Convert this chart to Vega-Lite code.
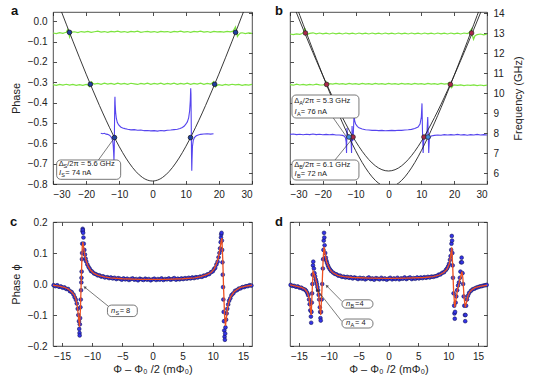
{
"$schema":"https://vega.github.io/schema/vega-lite/v6.json",
"autosize":{"type":"none"},
"padding":{"left":53,"top":12,"right":481,"bottom":369},
"background":"white",
"columns":2,
"spacing":{"row":38,"column":38},
"bounds":"flush",
"config":{"view":{"stroke":"#222","strokeWidth":0.8},"font":"Liberation Sans",
"axis":{"grid":false,"domain":false,"tickSize":-3.5,"tickColor":"#222","tickWidth":0.8,"labelFont":"Liberation Sans","labelFontSize":10,"labelColor":"#222","labelPadding":9.5,"titleFont":"Liberation Sans","titleFontSize":11,"titleFontWeight":"normal","titleColor":"#222"},
"axisX":{"labelPadding":9}},
"datasets":{
"letters_a":[{"x":-42.66,"y":0.0303,"t":"a"}],
"letters_b":[{"x":-34.57,"y":13.9,"t":"b"}],
"letters_c":[{"x":-23.63,"y":0.187,"t":"c"}],
"letters_d":[{"x":-19.01,"y":0.187,"t":"d"}],
"a_green":[
{"s":"g1","x":-30,"y":-0.058},{"s":"g1","x":-29,"y":-0.061},{"s":"g1","x":-28,"y":-0.056},{"s":"g1","x":-27,"y":-0.06},{"s":"g1","x":-26.5,"y":-0.057},{"s":"g1","x":-26,"y":-0.055},{"s":"g1","x":-25.6,"y":-0.042},{"s":"g1","x":-25.3,"y":-0.058},{"s":"g1","x":-25.0,"y":-0.078},{"s":"g1","x":-24.7,"y":-0.062},{"s":"g1","x":-24.3,"y":-0.054},{"s":"g1","x":-23.5,"y":-0.052},{"s":"g1","x":-22.5,"y":-0.056},{"s":"g1","x":-21.5,"y":-0.051},{"s":"g1","x":-20.5,"y":-0.054},{"s":"g1","x":-19.5,"y":-0.05},{"s":"g1","x":-18.5,"y":-0.055},{"s":"g1","x":-17.5,"y":-0.052},{"s":"g1","x":-16.5,"y":-0.049},{"s":"g1","x":-15.5,"y":-0.054},{"s":"g1","x":-14.5,"y":-0.051},{"s":"g1","x":-13.5,"y":-0.055},{"s":"g1","x":-12.5,"y":-0.05},{"s":"g1","x":-11.5,"y":-0.053},{"s":"g1","x":-10.5,"y":-0.049},{"s":"g1","x":-9.5,"y":-0.054},{"s":"g1","x":-8.5,"y":-0.051},{"s":"g1","x":-7.5,"y":-0.055},{"s":"g1","x":-6.5,"y":-0.05},{"s":"g1","x":-5.5,"y":-0.053},{"s":"g1","x":-4.5,"y":-0.049},{"s":"g1","x":-3.5,"y":-0.055},{"s":"g1","x":-2.5,"y":-0.052},{"s":"g1","x":-1.5,"y":-0.05},{"s":"g1","x":-0.5,"y":-0.054},{"s":"g1","x":0.5,"y":-0.051},{"s":"g1","x":1.5,"y":-0.055},{"s":"g1","x":2.5,"y":-0.05},{"s":"g1","x":3.5,"y":-0.053},{"s":"g1","x":4.5,"y":-0.051},{"s":"g1","x":5.5,"y":-0.055},{"s":"g1","x":6.5,"y":-0.05},{"s":"g1","x":7.5,"y":-0.053},{"s":"g1","x":8.5,"y":-0.049},{"s":"g1","x":9.5,"y":-0.054},{"s":"g1","x":10.5,"y":-0.051},{"s":"g1","x":11.5,"y":-0.055},{"s":"g1","x":12.5,"y":-0.05},{"s":"g1","x":13.5,"y":-0.053},{"s":"g1","x":14.5,"y":-0.049},{"s":"g1","x":15.5,"y":-0.054},{"s":"g1","x":16.5,"y":-0.051},{"s":"g1","x":17.5,"y":-0.055},{"s":"g1","x":18.5,"y":-0.05},{"s":"g1","x":19.5,"y":-0.053},{"s":"g1","x":20.5,"y":-0.051},{"s":"g1","x":21.5,"y":-0.054},{"s":"g1","x":22.5,"y":-0.05},{"s":"g1","x":23.5,"y":-0.053},{"s":"g1","x":24.3,"y":-0.049},{"s":"g1","x":24.7,"y":-0.038},{"s":"g1","x":25.0,"y":-0.028},{"s":"g1","x":25.3,"y":-0.045},{"s":"g1","x":25.6,"y":-0.075},{"s":"g1","x":26.0,"y":-0.066},{"s":"g1","x":26.5,"y":-0.059},{"s":"g1","x":27,"y":-0.057},{"s":"g1","x":28,"y":-0.061},{"s":"g1","x":29,"y":-0.058},{"s":"g1","x":30,"y":-0.06},
{"s":"g2","x":-30,"y":-0.312},{"s":"g2","x":-29,"y":-0.315},{"s":"g2","x":-28,"y":-0.311},{"s":"g2","x":-27,"y":-0.314},{"s":"g2","x":-26,"y":-0.31},{"s":"g2","x":-25,"y":-0.314},{"s":"g2","x":-24,"y":-0.311},{"s":"g2","x":-23,"y":-0.315},{"s":"g2","x":-22,"y":-0.312},{"s":"g2","x":-21,"y":-0.315},{"s":"g2","x":-20,"y":-0.311},{"s":"g2","x":-19.4,"y":-0.314},{"s":"g2","x":-19.0,"y":-0.322},{"s":"g2","x":-18.7,"y":-0.31},{"s":"g2","x":-18.4,"y":-0.298},{"s":"g2","x":-18.0,"y":-0.305},{"s":"g2","x":-17.5,"y":-0.309},{"s":"g2","x":-16.5,"y":-0.306},{"s":"g2","x":-15.5,"y":-0.31},{"s":"g2","x":-14.5,"y":-0.305},{"s":"g2","x":-13.5,"y":-0.309},{"s":"g2","x":-12.5,"y":-0.306},{"s":"g2","x":-11.5,"y":-0.31},{"s":"g2","x":-10.5,"y":-0.305},{"s":"g2","x":-9.5,"y":-0.309},{"s":"g2","x":-8.5,"y":-0.306},{"s":"g2","x":-7.5,"y":-0.31},{"s":"g2","x":-6.5,"y":-0.305},{"s":"g2","x":-5.5,"y":-0.308},{"s":"g2","x":-4.5,"y":-0.311},{"s":"g2","x":-3.5,"y":-0.306},{"s":"g2","x":-2.5,"y":-0.309},{"s":"g2","x":-1.5,"y":-0.305},{"s":"g2","x":-0.5,"y":-0.31},{"s":"g2","x":0.5,"y":-0.306},{"s":"g2","x":1.5,"y":-0.309},{"s":"g2","x":2.5,"y":-0.305},{"s":"g2","x":3.5,"y":-0.31},{"s":"g2","x":4.5,"y":-0.306},{"s":"g2","x":5.5,"y":-0.309},{"s":"g2","x":6.5,"y":-0.305},{"s":"g2","x":7.5,"y":-0.31},{"s":"g2","x":8.5,"y":-0.306},{"s":"g2","x":9.5,"y":-0.309},{"s":"g2","x":10.5,"y":-0.305},{"s":"g2","x":11.5,"y":-0.31},{"s":"g2","x":12.5,"y":-0.306},{"s":"g2","x":13.5,"y":-0.309},{"s":"g2","x":14.5,"y":-0.305},{"s":"g2","x":15.5,"y":-0.31},{"s":"g2","x":16.5,"y":-0.306},{"s":"g2","x":17.5,"y":-0.309},{"s":"g2","x":18.0,"y":-0.304},{"s":"g2","x":18.4,"y":-0.297},{"s":"g2","x":18.7,"y":-0.312},{"s":"g2","x":19.0,"y":-0.323},{"s":"g2","x":19.4,"y":-0.316},{"s":"g2","x":20,"y":-0.312},{"s":"g2","x":21,"y":-0.315},{"s":"g2","x":22,"y":-0.311},{"s":"g2","x":23,"y":-0.314},{"s":"g2","x":24,"y":-0.31},{"s":"g2","x":25,"y":-0.313},{"s":"g2","x":26,"y":-0.311},{"s":"g2","x":27,"y":-0.315},{"s":"g2","x":28,"y":-0.312},{"s":"g2","x":29,"y":-0.314},{"s":"g2","x":30,"y":-0.311}],
"a_blue":[
{"x":-15.6,"y":-0.551},{"x":-15,"y":-0.553},{"x":-14.5,"y":-0.551},{"x":-14,"y":-0.555},{"x":-13.5,"y":-0.556},{"x":-13,"y":-0.56},{"x":-12.6,"y":-0.566},{"x":-12.3,"y":-0.574},{"x":-12.0,"y":-0.588},{"x":-11.85,"y":-0.61},{"x":-11.72,"y":-0.645},{"x":-11.62,"y":-0.685},{"x":-11.52,"y":-0.62},{"x":-11.45,"y":-0.5},{"x":-11.38,"y":-0.4},{"x":-11.32,"y":-0.372},{"x":-11.25,"y":-0.41},{"x":-11.1,"y":-0.45},{"x":-10.9,"y":-0.478},{"x":-10.6,"y":-0.498},{"x":-10.2,"y":-0.51},{"x":-9.6,"y":-0.52},{"x":-9,"y":-0.525},{"x":-8.3,"y":-0.528},{"x":-7.5,"y":-0.531},{"x":-6.5,"y":-0.534},{"x":-5.5,"y":-0.533},{"x":-4.5,"y":-0.536},{"x":-3.5,"y":-0.535},{"x":-2.5,"y":-0.538},{"x":-1.5,"y":-0.537},{"x":-0.5,"y":-0.539},{"x":0.5,"y":-0.538},{"x":1.5,"y":-0.54},{"x":2.5,"y":-0.537},{"x":3.5,"y":-0.539},{"x":4.5,"y":-0.536},{"x":5.5,"y":-0.535},{"x":6.5,"y":-0.533},{"x":7.5,"y":-0.531},{"x":8.3,"y":-0.527},{"x":9,"y":-0.522},{"x":9.6,"y":-0.515},{"x":10.1,"y":-0.505},{"x":10.5,"y":-0.495},{"x":10.9,"y":-0.475},{"x":11.2,"y":-0.44},{"x":11.4,"y":-0.39},{"x":11.52,"y":-0.33},{"x":11.6,"y":-0.36},{"x":11.68,"y":-0.5},{"x":11.76,"y":-0.65},{"x":11.84,"y":-0.735},{"x":11.92,"y":-0.68},{"x":12.05,"y":-0.615},{"x":12.3,"y":-0.585},{"x":12.7,"y":-0.571},{"x":13.2,"y":-0.563},{"x":13.8,"y":-0.559},{"x":14.5,"y":-0.556},{"x":15.5,"y":-0.554},{"x":16.5,"y":-0.553},{"x":17.5,"y":-0.555},{"x":18.4,"y":-0.553}],
"a_curve":[
{"x":-28,"y":0.0698},{"x":-26,"y":-0.0147},{"x":-24,"y":-0.0981},{"x":-22,"y":-0.1801},{"x":-20,"y":-0.2604},{"x":-18,"y":-0.3386},{"x":-16,"y":-0.4142},{"x":-14,"y":-0.4865},{"x":-12,"y":-0.5546},{"x":-10,"y":-0.6172},{"x":-8,"y":-0.6727},{"x":-6,"y":-0.7194},{"x":-5,"y":-0.7388},{"x":-4,"y":-0.7551},{"x":-3,"y":-0.7681},{"x":-2,"y":-0.7776},{"x":-1,"y":-0.7833},{"x":0,"y":-0.7853},{"x":1,"y":-0.7833},{"x":2,"y":-0.7776},{"x":3,"y":-0.7681},{"x":4,"y":-0.7551},{"x":5,"y":-0.7388},{"x":6,"y":-0.7194},{"x":8,"y":-0.6727},{"x":10,"y":-0.6172},{"x":12,"y":-0.5546},{"x":14,"y":-0.4865},{"x":16,"y":-0.4142},{"x":18,"y":-0.3386},{"x":20,"y":-0.2604},{"x":22,"y":-0.1801},{"x":24,"y":-0.0981},{"x":26,"y":-0.0147},{"x":28,"y":0.0698}],
"a_dots":[{"x":-25.04,"y":-0.055},{"x":-18.74,"y":-0.31},{"x":-11.46,"y":-0.572},{"x":11.46,"y":-0.572},{"x":18.74,"y":-0.31},{"x":25.04,"y":-0.055}],
"a_call":[{"x":-16.3,"y":-0.682},{"x":-12.0,"y":-0.585}],
"a_box":[{"x":-28.9,"x2":-9.6,"y":-0.682,"y2":-0.777}],
"a_txt":[
{"k":"n","x":-28.3,"y":-0.702,"t":"Δ"},{"k":"s","x":-26.8,"y":-0.702,"t":"S"},{"k":"n","x":-25.7,"y":-0.702,"t":"/2π = 5.6 GHz"},
{"k":"i","x":-28.2,"y":-0.744,"t":"I"},{"k":"s","x":-27.5,"y":-0.744,"t":"S"},{"k":"n","x":-26.3,"y":-0.744,"t":"= 74 nA"}],
"b_green":[
{"s":"g1","x":-30,"y":12.95},{"s":"g1","x":-29,"y":12.92},{"s":"g1","x":-28,"y":12.96},{"s":"g1","x":-27,"y":12.93},{"s":"g1","x":-26.3,"y":12.97},{"s":"g1","x":-25.8,"y":13.06},{"s":"g1","x":-25.5,"y":13.25},{"s":"g1","x":-25.2,"y":13.0},{"s":"g1","x":-24.8,"y":12.92},{"s":"g1","x":-24,"y":12.98},{"s":"g1","x":-23,"y":13.01},{"s":"g1","x":-22,"y":12.96},{"s":"g1","x":-21,"y":13.0},{"s":"g1","x":-20,"y":12.96},{"s":"g1","x":-19,"y":12.99},{"s":"g1","x":-18,"y":12.95},{"s":"g1","x":-17,"y":13.0},{"s":"g1","x":-16,"y":12.96},{"s":"g1","x":-15,"y":12.99},{"s":"g1","x":-14,"y":12.95},{"s":"g1","x":-13,"y":13.0},{"s":"g1","x":-12,"y":12.96},{"s":"g1","x":-11,"y":12.99},{"s":"g1","x":-10,"y":12.95},{"s":"g1","x":-9,"y":13.0},{"s":"g1","x":-8,"y":12.96},{"s":"g1","x":-7,"y":12.99},{"s":"g1","x":-6,"y":12.95},{"s":"g1","x":-5,"y":13.0},{"s":"g1","x":-4,"y":12.96},{"s":"g1","x":-3,"y":12.99},{"s":"g1","x":-2,"y":12.95},{"s":"g1","x":-1,"y":13.0},{"s":"g1","x":0,"y":12.96},{"s":"g1","x":1,"y":12.99},{"s":"g1","x":2,"y":12.95},{"s":"g1","x":3,"y":13.0},{"s":"g1","x":4,"y":12.96},{"s":"g1","x":5,"y":12.99},{"s":"g1","x":6,"y":12.95},{"s":"g1","x":7,"y":13.0},{"s":"g1","x":8,"y":12.96},{"s":"g1","x":9,"y":12.99},{"s":"g1","x":10,"y":12.95},{"s":"g1","x":11,"y":13.0},{"s":"g1","x":12,"y":12.96},{"s":"g1","x":13,"y":12.99},{"s":"g1","x":14,"y":12.95},{"s":"g1","x":15,"y":13.0},{"s":"g1","x":16,"y":12.96},{"s":"g1","x":17,"y":12.99},{"s":"g1","x":18,"y":12.95},{"s":"g1","x":19,"y":13.0},{"s":"g1","x":20,"y":12.96},{"s":"g1","x":21,"y":12.99},{"s":"g1","x":22,"y":12.95},{"s":"g1","x":23,"y":13.0},{"s":"g1","x":24,"y":12.97},{"s":"g1","x":24.6,"y":13.02},{"s":"g1","x":25.0,"y":13.12},{"s":"g1","x":25.3,"y":13.2},{"s":"g1","x":25.6,"y":12.85},{"s":"g1","x":25.9,"y":12.68},{"s":"g1","x":26.3,"y":12.85},{"s":"g1","x":27,"y":12.92},{"s":"g1","x":28,"y":12.95},{"s":"g1","x":29,"y":12.91},{"s":"g1","x":30,"y":12.94},
{"s":"g2","x":-30,"y":10.42},{"s":"g2","x":-29,"y":10.39},{"s":"g2","x":-28,"y":10.44},{"s":"g2","x":-27,"y":10.4},{"s":"g2","x":-26,"y":10.43},{"s":"g2","x":-25,"y":10.39},{"s":"g2","x":-24,"y":10.43},{"s":"g2","x":-23,"y":10.4},{"s":"g2","x":-22,"y":10.44},{"s":"g2","x":-21,"y":10.41},{"s":"g2","x":-20,"y":10.4},{"s":"g2","x":-19.3,"y":10.43},{"s":"g2","x":-19.0,"y":10.54},{"s":"g2","x":-18.7,"y":10.37},{"s":"g2","x":-18.4,"y":10.44},{"s":"g2","x":-18,"y":10.47},{"s":"g2","x":-17,"y":10.44},{"s":"g2","x":-16,"y":10.48},{"s":"g2","x":-15,"y":10.44},{"s":"g2","x":-14,"y":10.47},{"s":"g2","x":-13,"y":10.43},{"s":"g2","x":-12,"y":10.48},{"s":"g2","x":-11,"y":10.44},{"s":"g2","x":-10,"y":10.47},{"s":"g2","x":-9,"y":10.43},{"s":"g2","x":-8,"y":10.48},{"s":"g2","x":-7,"y":10.44},{"s":"g2","x":-6,"y":10.47},{"s":"g2","x":-5,"y":10.43},{"s":"g2","x":-4,"y":10.48},{"s":"g2","x":-3,"y":10.44},{"s":"g2","x":-2,"y":10.47},{"s":"g2","x":-1,"y":10.43},{"s":"g2","x":0,"y":10.48},{"s":"g2","x":1,"y":10.44},{"s":"g2","x":2,"y":10.47},{"s":"g2","x":3,"y":10.43},{"s":"g2","x":4,"y":10.48},{"s":"g2","x":5,"y":10.44},{"s":"g2","x":6,"y":10.47},{"s":"g2","x":7,"y":10.43},{"s":"g2","x":8,"y":10.48},{"s":"g2","x":9,"y":10.44},{"s":"g2","x":10,"y":10.47},{"s":"g2","x":11,"y":10.43},{"s":"g2","x":12,"y":10.48},{"s":"g2","x":13,"y":10.44},{"s":"g2","x":14,"y":10.47},{"s":"g2","x":15,"y":10.43},{"s":"g2","x":16,"y":10.48},{"s":"g2","x":17,"y":10.44},{"s":"g2","x":18,"y":10.47},{"s":"g2","x":18.3,"y":10.5},{"s":"g2","x":18.6,"y":10.53},{"s":"g2","x":18.9,"y":10.32},{"s":"g2","x":19.2,"y":10.26},{"s":"g2","x":19.6,"y":10.36},{"s":"g2","x":20,"y":10.41},{"s":"g2","x":21,"y":10.38},{"s":"g2","x":22,"y":10.41},{"s":"g2","x":23,"y":10.37},{"s":"g2","x":24,"y":10.4},{"s":"g2","x":25,"y":10.38},{"s":"g2","x":26,"y":10.41},{"s":"g2","x":27,"y":10.37},{"s":"g2","x":28,"y":10.4},{"s":"g2","x":29,"y":10.37},{"s":"g2","x":30,"y":10.39}],
"b_blue":[
{"x":-30,"y":7.93},{"x":-29,"y":7.95},{"x":-28,"y":7.92},{"x":-27,"y":7.94},{"x":-26,"y":7.91},{"x":-25,"y":7.94},{"x":-24,"y":7.92},{"x":-23,"y":7.95},{"x":-22,"y":7.92},{"x":-21,"y":7.94},{"x":-20,"y":7.91},{"x":-19,"y":7.93},{"x":-18,"y":7.91},{"x":-17,"y":7.93},{"x":-16,"y":7.9},{"x":-15,"y":7.9},{"x":-14,"y":7.88},{"x":-13.4,"y":7.84},{"x":-13.1,"y":7.75},{"x":-12.9,"y":7.55},{"x":-12.78,"y":7.0},{"x":-12.65,"y":8.25},{"x":-12.5,"y":7.95},{"x":-12.1,"y":7.86},{"x":-11.7,"y":7.8},{"x":-11.4,"y":7.62},{"x":-11.25,"y":7.0},{"x":-11.1,"y":8.35},{"x":-10.9,"y":7.6},{"x":-10.7,"y":8.0},{"x":-10.5,"y":8.9},{"x":-10.3,"y":8.6},{"x":-10.0,"y":8.45},{"x":-9.5,"y":8.33},{"x":-9,"y":8.26},{"x":-8,"y":8.2},{"x":-7,"y":8.16},{"x":-6,"y":8.15},{"x":-5,"y":8.13},{"x":-4,"y":8.14},{"x":-3,"y":8.12},{"x":-2,"y":8.13},{"x":-1,"y":8.11},{"x":0,"y":8.12},{"x":1,"y":8.13},{"x":2,"y":8.12},{"x":3,"y":8.14},{"x":4,"y":8.13},{"x":5,"y":8.15},{"x":6,"y":8.16},{"x":7,"y":8.18},{"x":8,"y":8.22},{"x":9,"y":8.3},{"x":9.6,"y":8.45},{"x":10.0,"y":8.8},{"x":10.2,"y":9.48},{"x":10.35,"y":8.1},{"x":10.55,"y":7.0},{"x":10.75,"y":7.65},{"x":11.2,"y":7.85},{"x":11.7,"y":8.0},{"x":11.95,"y":8.8},{"x":12.1,"y":7.95},{"x":12.25,"y":7.0},{"x":12.45,"y":7.7},{"x":13,"y":7.85},{"x":14,"y":7.88},{"x":15,"y":7.9},{"x":16,"y":7.89},{"x":17,"y":7.92},{"x":18,"y":7.9},{"x":19,"y":7.92},{"x":20,"y":7.9},{"x":21,"y":7.93},{"x":22,"y":7.9},{"x":23,"y":7.92},{"x":24,"y":7.89},{"x":25,"y":7.92},{"x":26,"y":7.9},{"x":27,"y":7.93},{"x":28,"y":7.9},{"x":29,"y":7.92},{"x":30,"y":7.9}],
"b_curves":[
{"s":"A","x":-28,"y":14.3171},{"s":"A","x":-27,"y":13.877},{"s":"A","x":-26,"y":13.4392},{"s":"A","x":-25,"y":13.0041},{"s":"A","x":-24,"y":12.5718},{"s":"A","x":-23,"y":12.1427},{"s":"A","x":-22,"y":11.7172},{"s":"A","x":-21,"y":11.2956},{"s":"A","x":-20,"y":10.8784},{"s":"A","x":-19,"y":10.4662},{"s":"A","x":-18,"y":10.0594},{"s":"A","x":-17,"y":9.659},{"s":"A","x":-16,"y":9.2655},{"s":"A","x":-15,"y":8.8801},{"s":"A","x":-14,"y":8.5037},{"s":"A","x":-13,"y":8.1376},{"s":"A","x":-12,"y":7.7833},{"s":"A","x":-11,"y":7.4425},{"s":"A","x":-10,"y":7.117},{"s":"A","x":-9,"y":6.8092},{"s":"A","x":-8,"y":6.5215},{"s":"A","x":-7,"y":6.2566},{"s":"A","x":-6,"y":6.0177},{"s":"A","x":-5,"y":5.8078},{"s":"A","x":-4,"y":5.6303},{"s":"A","x":-3,"y":5.4882},{"s":"A","x":-2,"y":5.3845},{"s":"A","x":0,"y":5.3},{"s":"A","x":2,"y":5.3845},{"s":"A","x":3,"y":5.4882},{"s":"A","x":4,"y":5.6303},{"s":"A","x":5,"y":5.8078},{"s":"A","x":6,"y":6.0177},{"s":"A","x":7,"y":6.2566},{"s":"A","x":8,"y":6.5215},{"s":"A","x":9,"y":6.8092},{"s":"A","x":10,"y":7.117},{"s":"A","x":11,"y":7.4425},{"s":"A","x":12,"y":7.7833},{"s":"A","x":13,"y":8.1376},{"s":"A","x":14,"y":8.5037},{"s":"A","x":15,"y":8.8801},{"s":"A","x":16,"y":9.2655},{"s":"A","x":17,"y":9.659},{"s":"A","x":18,"y":10.0594},{"s":"A","x":19,"y":10.4662},{"s":"A","x":20,"y":10.8784},{"s":"A","x":21,"y":11.2956},{"s":"A","x":22,"y":11.7172},{"s":"A","x":23,"y":12.1427},{"s":"A","x":24,"y":12.5718},{"s":"A","x":25,"y":13.0041},{"s":"A","x":26,"y":13.4392},{"s":"A","x":27,"y":13.877},{"s":"A","x":28,"y":14.3171},
{"s":"B","x":-29,"y":14.4053},{"s":"B","x":-28,"y":13.9989},{"s":"B","x":-27,"y":13.5953},{"s":"B","x":-26,"y":13.1947},{"s":"B","x":-25,"y":12.7974},{"s":"B","x":-24,"y":12.4036},{"s":"B","x":-23,"y":12.0139},{"s":"B","x":-22,"y":11.6284},{"s":"B","x":-21,"y":11.2478},{"s":"B","x":-20,"y":10.8724},{"s":"B","x":-19,"y":10.503},{"s":"B","x":-18,"y":10.14},{"s":"B","x":-17,"y":9.7843},{"s":"B","x":-16,"y":9.4366},{"s":"B","x":-15,"y":9.098},{"s":"B","x":-14,"y":8.7693},{"s":"B","x":-13,"y":8.4518},{"s":"B","x":-12,"y":8.1468},{"s":"B","x":-11,"y":7.8557},{"s":"B","x":-10,"y":7.5802},{"s":"B","x":-9,"y":7.3221},{"s":"B","x":-8,"y":7.0831},{"s":"B","x":-7,"y":6.8653},{"s":"B","x":-6,"y":6.6708},{"s":"B","x":-5,"y":6.5017},{"s":"B","x":-4,"y":6.36},{"s":"B","x":-3,"y":6.2476},{"s":"B","x":-2,"y":6.166},{"s":"B","x":-1,"y":6.1166},{"s":"B","x":0,"y":6.1},{"s":"B","x":1,"y":6.1166},{"s":"B","x":2,"y":6.166},{"s":"B","x":3,"y":6.2476},{"s":"B","x":4,"y":6.36},{"s":"B","x":5,"y":6.5017},{"s":"B","x":6,"y":6.6708},{"s":"B","x":7,"y":6.8653},{"s":"B","x":8,"y":7.0831},{"s":"B","x":9,"y":7.3221},{"s":"B","x":10,"y":7.5802},{"s":"B","x":11,"y":7.8557},{"s":"B","x":12,"y":8.1468},{"s":"B","x":13,"y":8.4518},{"s":"B","x":14,"y":8.7693},{"s":"B","x":15,"y":9.098},{"s":"B","x":16,"y":9.4366},{"s":"B","x":17,"y":9.7843},{"s":"B","x":18,"y":10.14},{"s":"B","x":19,"y":10.503},{"s":"B","x":20,"y":10.8724},{"s":"B","x":21,"y":11.2478},{"s":"B","x":22,"y":11.6284},{"s":"B","x":23,"y":12.0139},{"s":"B","x":24,"y":12.4036},{"s":"B","x":25,"y":12.7974},{"s":"B","x":26,"y":13.1947},{"s":"B","x":27,"y":13.5953},{"s":"B","x":28,"y":13.9989},{"s":"B","x":29,"y":14.4053}],
"b_red":[{"x":-25.3,"y":13.0},{"x":-18.85,"y":10.43},{"x":-10.8,"y":7.8},{"x":10.8,"y":7.8},{"x":18.85,"y":10.43},{"x":25.3,"y":13.0}],
"b_bluedots":[{"x":-12.05,"y":7.8},{"x":12.05,"y":7.8}],
"b_call":[{"s":"A","x":-16.8,"y":8.75},{"s":"A","x":-12.4,"y":7.72},{"s":"B","x":-16.3,"y":6.65},{"s":"B","x":-11.1,"y":7.7}],
"b_box":[{"x":-29.4,"x2":-9.0,"y":9.9,"y2":8.75},{"x":-29.4,"x2":-9.0,"y":6.65,"y2":5.65}],
"b_txt":[
{"k":"n","x":-28.7,"y":9.6,"t":"Δ"},{"k":"s","x":-27.2,"y":9.6,"t":"A"},{"k":"n","x":-26.1,"y":9.6,"t":"/2π = 5.3 GHz"},
{"k":"i","x":-28.6,"y":9.07,"t":"I"},{"k":"s","x":-27.9,"y":9.07,"t":"A"},{"k":"n","x":-26.7,"y":9.07,"t":"= 76 nA"},
{"k":"n","x":-28.7,"y":6.4,"t":"Δ"},{"k":"s","x":-27.2,"y":6.4,"t":"B"},{"k":"n","x":-26.1,"y":6.4,"t":"/2π = 6.1 GHz"},
{"k":"i","x":-28.6,"y":5.93,"t":"I"},{"k":"s","x":-27.9,"y":5.93,"t":"B"},{"k":"n","x":-26.7,"y":5.93,"t":"= 72 nA"}],
"c_line":[
{"x":-16.5,"y":-0.004},{"x":-15.5,"y":-0.007},{"x":-14.5,"y":-0.012},{"x":-14,"y":-0.016},{"x":-13.5,"y":-0.024},{"x":-13,"y":-0.035},{"x":-12.7,"y":-0.05},{"x":-12.45,"y":-0.075},{"x":-12.25,"y":-0.11},{"x":-12.1,"y":-0.138},{"x":-11.95,"y":-0.08},{"x":-11.8,"y":0.02},{"x":-11.65,"y":0.12},{"x":-11.55,"y":0.135},{"x":-11.4,"y":0.115},{"x":-11.2,"y":0.09},{"x":-11,"y":0.075},{"x":-10.7,"y":0.058},{"x":-10.3,"y":0.045},{"x":-9.7,"y":0.034},{"x":-9,"y":0.028},{"x":-8,"y":0.023},{"x":-7,"y":0.02},{"x":-5,"y":0.017},{"x":-2,"y":0.015},{"x":0,"y":0.015},{"x":2,"y":0.015},{"x":5,"y":0.017},{"x":7,"y":0.02},{"x":8,"y":0.024},{"x":9,"y":0.03},{"x":9.7,"y":0.037},{"x":10.2,"y":0.048},{"x":10.6,"y":0.065},{"x":10.9,"y":0.083},{"x":11.15,"y":0.11},{"x":11.4,"y":0.14},{"x":11.5,"y":0.148},{"x":11.65,"y":0.08},{"x":11.8,"y":-0.02},{"x":11.95,"y":-0.1},{"x":12.1,"y":-0.135},{"x":12.25,"y":-0.11},{"x":12.45,"y":-0.075},{"x":12.7,"y":-0.055},{"x":13,"y":-0.04},{"x":13.5,"y":-0.026},{"x":14,"y":-0.018},{"x":14.5,"y":-0.012},{"x":15.5,"y":-0.007},{"x":16.5,"y":-0.004}],
"c_dots":[
{"x":-16.4,"y":-0.004},{"x":-16.1,"y":-0.007},{"x":-15.8,"y":-0.004},{"x":-15.5,"y":-0.009},{"x":-15.2,"y":-0.008},{"x":-14.9,"y":-0.012},{"x":-14.6,"y":-0.011},{"x":-14.3,"y":-0.016},{"x":-14.0,"y":-0.016},{"x":-13.7,"y":-0.023},{"x":-13.4,"y":-0.026},{"x":-13.1,"y":-0.034},{"x":-12.9,"y":-0.043},{"x":-12.7,"y":-0.051},{"x":-12.55,"y":-0.063},{"x":-12.4,"y":-0.08},{"x":-12.3,"y":-0.1},{"x":-12.2,"y":-0.12},{"x":-12.15,"y":-0.145},{"x":-12.1,"y":-0.158},{"x":-12.08,"y":-0.166},{"x":-12.05,"y":-0.13},{"x":-12.0,"y":-0.11},{"x":-11.95,"y":-0.075},{"x":-11.9,"y":-0.05},{"x":-11.85,"y":-0.02},{"x":-11.8,"y":0.005},{"x":-11.78,"y":0.02},{"x":-11.75,"y":0.04},{"x":-11.7,"y":0.08},{"x":-11.68,"y":0.1},{"x":-11.65,"y":0.13},{"x":-11.6,"y":0.17},{"x":-11.58,"y":0.178},{"x":-11.55,"y":0.174},{"x":-11.5,"y":0.165},{"x":-11.45,"y":0.15},{"x":-11.4,"y":0.13},{"x":-11.3,"y":0.11},{"x":-11.2,"y":0.095},{"x":-11.1,"y":0.082},{"x":-11.0,"y":0.073},{"x":-10.8,"y":0.063},{"x":-10.6,"y":0.055},{"x":-10.4,"y":0.049},{"x":-10.2,"y":0.042},{"x":-10.0,"y":0.04},{"x":-9.7,"y":0.034},{"x":-9.4,"y":0.032},{"x":-9.1,"y":0.028},{"x":-8.8,"y":0.028},{"x":-8.5,"y":0.024},{"x":-8.2,"y":0.025},{"x":-7.9,"y":0.021},
{"x":-7.5,"y":0.022},{"x":-7.2,"y":0.019},{"x":-6.9,"y":0.021},{"x":-6.6,"y":0.018},{"x":-6.3,"y":0.02},{"x":-6.0,"y":0.016},{"x":-5.7,"y":0.019},{"x":-5.4,"y":0.017},{"x":-5.1,"y":0.014},{"x":-4.8,"y":0.018},{"x":-4.5,"y":0.015},{"x":-4.2,"y":0.017},{"x":-3.9,"y":0.013},{"x":-3.6,"y":0.016},{"x":-3.3,"y":0.018},{"x":-3.0,"y":0.014},{"x":-2.7,"y":0.016},{"x":-2.4,"y":0.012},{"x":-2.1,"y":0.017},{"x":-1.8,"y":0.015},{"x":-1.5,"y":0.013},{"x":-1.2,"y":0.017},{"x":-0.9,"y":0.014},{"x":-0.6,"y":0.016},{"x":-0.3,"y":0.012},{"x":0,"y":0.015},{"x":0.3,"y":0.017},{"x":0.6,"y":0.013},{"x":0.9,"y":0.016},{"x":1.2,"y":0.014},{"x":1.5,"y":0.018},{"x":1.8,"y":0.013},{"x":2.1,"y":0.016},{"x":2.4,"y":0.015},{"x":2.7,"y":0.018},{"x":3.0,"y":0.014},{"x":3.3,"y":0.016},{"x":3.6,"y":0.019},{"x":3.9,"y":0.014},{"x":4.2,"y":0.017},{"x":4.5,"y":0.015},{"x":4.8,"y":0.018},{"x":5.1,"y":0.016},{"x":5.4,"y":0.019},{"x":5.7,"y":0.017},{"x":6.0,"y":0.02},{"x":6.3,"y":0.018},{"x":6.6,"y":0.021},{"x":6.9,"y":0.019},{"x":7.2,"y":0.022},{"x":7.5,"y":0.021},
{"x":7.9,"y":0.024},{"x":8.2,"y":0.023},{"x":8.5,"y":0.027},{"x":8.8,"y":0.027},{"x":9.1,"y":0.031},{"x":9.4,"y":0.032},{"x":9.7,"y":0.038},{"x":10.0,"y":0.041},{"x":10.2,"y":0.048},{"x":10.4,"y":0.052},{"x":10.6,"y":0.063},{"x":10.8,"y":0.072},{"x":10.95,"y":0.086},{"x":11.1,"y":0.1},{"x":11.2,"y":0.115},{"x":11.3,"y":0.135},{"x":11.35,"y":0.15},{"x":11.4,"y":0.16},{"x":11.45,"y":0.165},{"x":11.5,"y":0.14},{"x":11.55,"y":0.11},{"x":11.6,"y":0.07},{"x":11.65,"y":0.03},{"x":11.7,"y":-0.01},{"x":11.75,"y":-0.05},{"x":11.8,"y":-0.09},{"x":11.85,"y":-0.12},{"x":11.9,"y":-0.15},{"x":11.95,"y":-0.17},{"x":12.0,"y":-0.18},{"x":12.05,"y":-0.16},{"x":12.1,"y":-0.14},{"x":12.2,"y":-0.115},{"x":12.3,"y":-0.095},{"x":12.4,"y":-0.08},{"x":12.55,"y":-0.066},{"x":12.7,"y":-0.054},{"x":12.9,"y":-0.046},{"x":13.1,"y":-0.036},{"x":13.4,"y":-0.03},{"x":13.7,"y":-0.022},{"x":14.0,"y":-0.02},{"x":14.3,"y":-0.015},{"x":14.6,"y":-0.014},{"x":14.9,"y":-0.01},{"x":15.2,"y":-0.01},{"x":15.5,"y":-0.007},{"x":15.8,"y":-0.007},{"x":16.1,"y":-0.004},{"x":16.4,"y":-0.005}],
"c_arrow":[{"x":-6.93,"y":-0.078},{"x":-11.2,"y":-0.011}],
"c_head":[{"x":-11.25,"y":-0.01}],
"c_box":[{"x":-7.47,"x2":-2.52,"y":-0.068,"y2":-0.105}],
"c_txt":[{"k":"i","x":-6.9,"y":-0.086,"t":"n"},{"k":"s","x":-6.15,"y":-0.086,"t":"S"},{"k":"n","x":-5.45,"y":-0.086,"t":"= 8"}],
"d_line":[
{"x":-16.5,"y":-0.003},{"x":-15.5,"y":-0.007},{"x":-14.5,"y":-0.012},{"x":-14,"y":-0.017},{"x":-13.6,"y":-0.027},{"x":-13.3,"y":-0.045},{"x":-13.1,"y":-0.08},{"x":-12.95,"y":-0.1},{"x":-12.8,"y":-0.03},{"x":-12.65,"y":0.04},{"x":-12.5,"y":0.035},{"x":-12.2,"y":0.015},{"x":-11.95,"y":-0.005},{"x":-11.7,"y":-0.035},{"x":-11.5,"y":-0.08},{"x":-11.35,"y":-0.1},{"x":-11.15,"y":-0.02},{"x":-10.95,"y":0.08},{"x":-10.8,"y":0.12},{"x":-10.6,"y":0.095},{"x":-10.4,"y":0.073},{"x":-10.1,"y":0.058},{"x":-9.8,"y":0.046},{"x":-9.3,"y":0.036},{"x":-8.5,"y":0.028},{"x":-7.5,"y":0.024},{"x":-6,"y":0.021},{"x":-3,"y":0.019},{"x":0,"y":0.018},{"x":3,"y":0.019},{"x":6,"y":0.021},{"x":7.5,"y":0.024},{"x":8.5,"y":0.029},{"x":9.3,"y":0.038},{"x":9.8,"y":0.048},{"x":10.2,"y":0.065},{"x":10.45,"y":0.095},{"x":10.6,"y":0.118},{"x":10.75,"y":0.06},{"x":10.9,"y":-0.02},{"x":11.1,"y":-0.075},{"x":11.3,"y":-0.05},{"x":11.55,"y":-0.02},{"x":11.85,"y":0.005},{"x":12.1,"y":0.025},{"x":12.3,"y":0.04},{"x":12.45,"y":0.02},{"x":12.65,"y":-0.04},{"x":12.85,"y":-0.075},{"x":13.05,"y":-0.06},{"x":13.3,"y":-0.038},{"x":13.6,"y":-0.026},{"x":14,"y":-0.018},{"x":14.5,"y":-0.012},{"x":15.3,"y":-0.008},{"x":16.5,"y":-0.004}],
"d_dots":[
{"x":-16.4,"y":-0.003},{"x":-16.1,"y":-0.006},{"x":-15.8,"y":-0.006},{"x":-15.5,"y":-0.009},{"x":-15.2,"y":-0.008},{"x":-14.9,"y":-0.012},{"x":-14.6,"y":-0.012},{"x":-14.3,"y":-0.016},{"x":-14.0,"y":-0.018},{"x":-13.8,"y":-0.022},{"x":-13.6,"y":-0.029},{"x":-13.45,"y":-0.036},{"x":-13.3,"y":-0.05},{"x":-13.2,"y":-0.065},{"x":-13.1,"y":-0.085},{"x":-13.0,"y":-0.105},{"x":-12.95,"y":-0.125},{"x":-12.9,"y":-0.09},{"x":-12.85,"y":-0.06},{"x":-12.8,"y":-0.03},{"x":-12.75,"y":0.0},{"x":-12.7,"y":0.03},{"x":-12.65,"y":0.06},{"x":-12.6,"y":0.072},{"x":-12.5,"y":0.05},{"x":-12.4,"y":0.035},{"x":-12.3,"y":0.025},{"x":-12.2,"y":0.015},{"x":-12.1,"y":0.008},{"x":-12.0,"y":0.0},{"x":-11.9,"y":-0.01},{"x":-11.8,"y":-0.02},{"x":-11.7,"y":-0.035},{"x":-11.6,"y":-0.05},{"x":-11.5,"y":-0.075},{"x":-11.45,"y":-0.09},{"x":-11.4,"y":-0.11},{"x":-11.35,"y":-0.118},{"x":-11.3,"y":-0.09},{"x":-11.2,"y":-0.05},{"x":-11.1,"y":0.0},{"x":-11.0,"y":0.05},{"x":-10.95,"y":0.08},{"x":-10.9,"y":0.11},{"x":-10.85,"y":0.14},{"x":-10.8,"y":0.165},{"x":-10.75,"y":0.15},{"x":-10.7,"y":0.125},{"x":-10.6,"y":0.1},{"x":-10.5,"y":0.085},{"x":-10.4,"y":0.075},{"x":-10.3,"y":0.068},{"x":-10.15,"y":0.06},{"x":-10.0,"y":0.053},{"x":-9.8,"y":0.047},{"x":-9.6,"y":0.042},{"x":-9.3,"y":0.037},{"x":-9.0,"y":0.033},{"x":-8.7,"y":0.031},{"x":-8.4,"y":0.027},{"x":-8.1,"y":0.027},{"x":-7.8,"y":0.023},
{"x":-7.5,"y":0.024},{"x":-7.2,"y":0.021},{"x":-6.9,"y":0.023},{"x":-6.6,"y":0.02},{"x":-6.3,"y":0.022},{"x":-6.0,"y":0.018},{"x":-5.7,"y":0.021},{"x":-5.4,"y":0.019},{"x":-5.1,"y":0.016},{"x":-4.8,"y":0.02},{"x":-4.5,"y":0.017},{"x":-4.2,"y":0.019},{"x":-3.9,"y":0.015},{"x":-3.6,"y":0.018},{"x":-3.3,"y":0.021},{"x":-3.0,"y":0.016},{"x":-2.7,"y":0.018},{"x":-2.4,"y":0.014},{"x":-2.1,"y":0.019},{"x":-1.8,"y":0.017},{"x":-1.5,"y":0.015},{"x":-1.2,"y":0.02},{"x":-0.9,"y":0.016},{"x":-0.6,"y":0.018},{"x":-0.3,"y":0.014},{"x":0,"y":0.017},{"x":0.3,"y":0.02},{"x":0.6,"y":0.015},{"x":0.9,"y":0.018},{"x":1.2,"y":0.016},{"x":1.5,"y":0.02},{"x":1.8,"y":0.015},{"x":2.1,"y":0.018},{"x":2.4,"y":0.017},{"x":2.7,"y":0.021},{"x":3.0,"y":0.016},{"x":3.3,"y":0.019},{"x":3.6,"y":0.021},{"x":3.9,"y":0.016},{"x":4.2,"y":0.019},{"x":4.5,"y":0.017},{"x":4.8,"y":0.021},{"x":5.1,"y":0.018},{"x":5.4,"y":0.021},{"x":5.7,"y":0.019},{"x":6.0,"y":0.022},{"x":6.3,"y":0.02},{"x":6.6,"y":0.023},{"x":6.9,"y":0.021},{"x":7.2,"y":0.024},{"x":7.5,"y":0.023},
{"x":7.8,"y":0.025},{"x":8.1,"y":0.026},{"x":8.4,"y":0.03},{"x":8.7,"y":0.031},{"x":9.0,"y":0.036},{"x":9.3,"y":0.038},{"x":9.6,"y":0.045},{"x":9.8,"y":0.05},{"x":10.0,"y":0.057},{"x":10.15,"y":0.065},{"x":10.3,"y":0.078},{"x":10.4,"y":0.09},{"x":10.5,"y":0.11},{"x":10.55,"y":0.13},{"x":10.6,"y":0.155},{"x":10.65,"y":0.14},{"x":10.7,"y":0.1},{"x":10.75,"y":0.06},{"x":10.8,"y":0.02},{"x":10.9,"y":-0.03},{"x":11.0,"y":-0.07},{"x":11.05,"y":-0.095},{"x":11.1,"y":-0.112},{"x":11.15,"y":-0.09},{"x":11.25,"y":-0.06},{"x":11.35,"y":-0.04},{"x":11.5,"y":-0.02},{"x":11.65,"y":-0.005},{"x":11.8,"y":0.005},{"x":11.95,"y":0.02},{"x":12.05,"y":0.04},{"x":12.15,"y":0.07},{"x":12.25,"y":0.085},{"x":12.3,"y":0.07},{"x":12.4,"y":0.035},{"x":12.5,"y":0.0},{"x":12.6,"y":-0.04},{"x":12.7,"y":-0.07},{"x":12.8,"y":-0.1},{"x":12.85,"y":-0.12},{"x":12.9,"y":-0.1},{"x":13.0,"y":-0.07},{"x":13.15,"y":-0.05},{"x":13.3,"y":-0.038},{"x":13.5,"y":-0.029},{"x":13.8,"y":-0.022},{"x":14.1,"y":-0.017},{"x":14.4,"y":-0.015},{"x":14.7,"y":-0.012},{"x":15.0,"y":-0.01},{"x":15.3,"y":-0.008},{"x":15.6,"y":-0.007},{"x":15.9,"y":-0.005},{"x":16.2,"y":-0.004},{"x":16.45,"y":-0.003}],
"d_arrow":[{"s":"B","x":-7.8,"y":-0.056},{"s":"B","x":-10.3,"y":-0.007},{"s":"A","x":-7.8,"y":-0.121},{"s":"A","x":-11.9,"y":-0.02}],
"d_head":[{"x":-10.35,"y":-0.006,"a":315},{"x":-11.95,"y":-0.019,"a":322}],
"d_box":[{"x":-7.79,"x2":-2.6,"y":-0.051,"y2":-0.078},{"x":-7.79,"x2":-2.6,"y":-0.113,"y2":-0.142}],
"d_txt":[{"k":"i","x":-7.1,"y":-0.064,"t":"n"},{"k":"s","x":-6.35,"y":-0.064,"t":"B"},{"k":"n","x":-5.6,"y":-0.064,"t":"=4"},
{"k":"i","x":-7.1,"y":-0.127,"t":"n"},{"k":"s","x":-6.35,"y":-0.127,"t":"A"},{"k":"n","x":-5.6,"y":-0.127,"t":"= 4"}]
},
"concat":[
{"width":199,"height":172,
"resolve":{"axis":{"x":"independent","y":"independent"}},
"layer":[
{"data":{"name":"a_green"},"mark":{"type":"line","color":"#7ce43e","strokeWidth":1.2,"clip":true},
"encoding":{"x":{"field":"x","type":"quantitative","scale":{"domain":[-30,30],"nice":false,"zero":false},"axis":{"orient":"bottom","values":[-30,-20,-10,0,10,20,30],"format":"d","title":null}},
"y":{"field":"y","type":"quantitative","scale":{"domain":[-0.8,0.045],"nice":false,"zero":false},"axis":{"orient":"left","values":[0,-0.1,-0.2,-0.3,-0.4,-0.5,-0.6,-0.7,-0.8],"format":".1f","title":"Phase","titlePadding":6}},
"detail":{"field":"s"}}},
{"data":{"name":"a_blue"},"mark":{"type":"line","color":"#5544ee","strokeWidth":1.1,"clip":true},
"encoding":{"x":{"field":"x","type":"quantitative","axis":{"orient":"top","labels":false,"values":[-30,-20,-10,0,10,20,30],"title":null}},
"y":{"field":"y","type":"quantitative","axis":{"orient":"right","labels":false,"values":[0.0401,-0.0582,-0.1564,-0.2547,-0.3529,-0.4512,-0.5494,-0.6477,-0.7459],"title":null}}}},
{"data":{"name":"a_curve"},"mark":{"type":"line","color":"#222","strokeWidth":0.9,"interpolate":"monotone","clip":true},
"encoding":{"x":{"field":"x","type":"quantitative","axis":null},"y":{"field":"y","type":"quantitative","axis":null}}},
{"data":{"name":"a_call"},"mark":{"type":"line","color":"#222","strokeWidth":0.6},
"encoding":{"x":{"field":"x","type":"quantitative","axis":null},"y":{"field":"y","type":"quantitative","axis":null}}},
{"data":{"name":"a_box"},"mark":{"type":"rect","fill":"white","stroke":"#555","strokeWidth":0.8,"cornerRadius":4},
"encoding":{"x":{"field":"x","type":"quantitative","axis":null},"x2":{"field":"x2"},"y":{"field":"y","type":"quantitative","axis":null},"y2":{"field":"y2"}}},
{"data":{"name":"a_txt"},"transform":[{"filter":"datum.k=='n'"}],"mark":{"type":"text","align":"left","baseline":"middle","fontSize":7.5,"color":"#222"},
"encoding":{"x":{"field":"x","type":"quantitative","axis":null},"y":{"field":"y","type":"quantitative","axis":null},"text":{"field":"t"}}},
{"data":{"name":"a_txt"},"transform":[{"filter":"datum.k=='i'"}],"mark":{"type":"text","align":"left","baseline":"middle","fontSize":7.5,"fontStyle":"italic","color":"#222"},
"encoding":{"x":{"field":"x","type":"quantitative","axis":null},"y":{"field":"y","type":"quantitative","axis":null},"text":{"field":"t"}}},
{"data":{"name":"a_txt"},"transform":[{"filter":"datum.k=='s'"}],"mark":{"type":"text","align":"left","baseline":"middle","fontSize":5.5,"dy":2,"color":"#222"},
"encoding":{"x":{"field":"x","type":"quantitative","axis":null},"y":{"field":"y","type":"quantitative","axis":null},"text":{"field":"t"}}},
{"data":{"name":"a_dots"},"mark":{"type":"point","filled":true,"fill":"#1f3f9f","stroke":"#111","strokeWidth":0.7,"size":22,"opacity":1},
"encoding":{"x":{"field":"x","type":"quantitative","axis":null},"y":{"field":"y","type":"quantitative","axis":null}}},
{"data":{"name":"letters_a"},"mark":{"type":"text","align":"left","baseline":"alphabetic","fontSize":13,"fontWeight":"bold","color":"#111"},
"encoding":{"x":{"field":"x","type":"quantitative","axis":null},"y":{"field":"y","type":"quantitative","axis":null},"text":{"field":"t"}}}
]},
{"width":197,"height":172,
"resolve":{"axis":{"x":"independent","y":"independent"}},
"layer":[
{"data":{"name":"b_green"},"mark":{"type":"line","color":"#7ce43e","strokeWidth":1.2,"clip":true},
"encoding":{"x":{"field":"x","type":"quantitative","scale":{"domain":[-30,30],"nice":false,"zero":false},"axis":{"orient":"bottom","values":[-30,-20,-10,0,10,20,30],"format":"d","title":null}},
"y":{"field":"y","type":"quantitative","scale":{"domain":[5.45,14.05],"nice":false,"zero":false},"axis":{"orient":"left","labels":false,"values":[13.592,12.574,11.557,10.539,9.521,8.503,7.486,6.468,5.45],"title":null}},
"detail":{"field":"s"}}},
{"data":{"name":"b_blue"},"mark":{"type":"line","color":"#5544ee","strokeWidth":1.1,"clip":true},
"encoding":{"x":{"field":"x","type":"quantitative","axis":{"orient":"top","labels":false,"values":[-30,-20,-10,0,10,20,30],"title":null}},
"y":{"field":"y","type":"quantitative","axis":{"orient":"right","values":[6,7,8,9,10,11,12,13,14],"format":"d","title":"Frequency (GHz)","titleAngle":270,"titleBaseline":"top","titlePadding":8}}}},
{"data":{"name":"b_curves"},"mark":{"type":"line","color":"#222","strokeWidth":0.9,"interpolate":"monotone","clip":true},
"encoding":{"x":{"field":"x","type":"quantitative","axis":null},"y":{"field":"y","type":"quantitative","axis":null},"detail":{"field":"s"}}},
{"data":{"name":"b_call"},"mark":{"type":"line","color":"#222","strokeWidth":0.6},
"encoding":{"x":{"field":"x","type":"quantitative","axis":null},"y":{"field":"y","type":"quantitative","axis":null},"detail":{"field":"s"}}},
{"data":{"name":"b_box"},"mark":{"type":"rect","fill":"white","stroke":"#555","strokeWidth":0.8,"cornerRadius":4},
"encoding":{"x":{"field":"x","type":"quantitative","axis":null},"x2":{"field":"x2"},"y":{"field":"y","type":"quantitative","axis":null},"y2":{"field":"y2"}}},
{"data":{"name":"b_txt"},"transform":[{"filter":"datum.k=='n'"}],"mark":{"type":"text","align":"left","baseline":"middle","fontSize":7.5,"color":"#222"},
"encoding":{"x":{"field":"x","type":"quantitative","axis":null},"y":{"field":"y","type":"quantitative","axis":null},"text":{"field":"t"}}},
{"data":{"name":"b_txt"},"transform":[{"filter":"datum.k=='i'"}],"mark":{"type":"text","align":"left","baseline":"middle","fontSize":7.5,"fontStyle":"italic","color":"#222"},
"encoding":{"x":{"field":"x","type":"quantitative","axis":null},"y":{"field":"y","type":"quantitative","axis":null},"text":{"field":"t"}}},
{"data":{"name":"b_txt"},"transform":[{"filter":"datum.k=='s'"}],"mark":{"type":"text","align":"left","baseline":"middle","fontSize":5.5,"dy":2,"color":"#222"},
"encoding":{"x":{"field":"x","type":"quantitative","axis":null},"y":{"field":"y","type":"quantitative","axis":null},"text":{"field":"t"}}},
{"data":{"name":"b_red"},"mark":{"type":"point","filled":true,"fill":"#a82848","stroke":"#222","strokeWidth":0.7,"size":22,"opacity":1},
"encoding":{"x":{"field":"x","type":"quantitative","axis":null},"y":{"field":"y","type":"quantitative","axis":null}}},
{"data":{"name":"b_bluedots"},"mark":{"type":"point","filled":true,"fill":"#3f8fe0","stroke":"#222","strokeWidth":0.7,"size":22,"opacity":1},
"encoding":{"x":{"field":"x","type":"quantitative","axis":null},"y":{"field":"y","type":"quantitative","axis":null}}},
{"data":{"name":"letters_b"},"mark":{"type":"text","align":"left","baseline":"alphabetic","fontSize":13,"fontWeight":"bold","color":"#111"},
"encoding":{"x":{"field":"x","type":"quantitative","axis":null},"y":{"field":"y","type":"quantitative","axis":null},"text":{"field":"t"}}}
]},
{"width":199,"height":124,
"resolve":{"axis":{"x":"independent","y":"independent"}},
"layer":[
{"data":{"name":"c_dots"},"mark":{"type":"point","filled":true,"fill":"#3434e8","stroke":"#15155a","strokeWidth":0.6,"size":14,"opacity":1},
"encoding":{"x":{"field":"x","type":"quantitative","scale":{"domain":[-16.5,16.5],"nice":false,"zero":false},"axis":{"orient":"bottom","values":[-15,-10,-5,0,5,10,15],"format":"d","title":"Φ – Φ₀ /2 (mΦ₀)","titlePadding":2}},
"y":{"field":"y","type":"quantitative","scale":{"domain":[-0.2,0.2],"nice":false,"zero":false},"axis":{"orient":"left","values":[-0.2,-0.1,0,0.1,0.2],"format":".1f","title":"Phase ϕ","titlePadding":6}}}},
{"data":{"name":"c_line"},"mark":{"type":"line","color":"#ee5020","strokeWidth":1.3,"clip":true},
"encoding":{"x":{"field":"x","type":"quantitative","axis":{"orient":"top","labels":false,"values":[-15,-10,-5,0,5,10,15],"title":null}},
"y":{"field":"y","type":"quantitative","axis":{"orient":"right","labels":false,"values":[-0.2,-0.1,0,0.1,0.2],"title":null}}}},
{"data":{"name":"c_arrow"},"mark":{"type":"line","color":"#222","strokeWidth":0.6},
"encoding":{"x":{"field":"x","type":"quantitative","axis":null},"y":{"field":"y","type":"quantitative","axis":null}}},
{"data":{"name":"c_head"},"mark":{"type":"point","shape":"triangle-up","filled":true,"color":"#222","size":12,"angle":309},
"encoding":{"x":{"field":"x","type":"quantitative","axis":null},"y":{"field":"y","type":"quantitative","axis":null}}},
{"data":{"name":"c_box"},"mark":{"type":"rect","fill":"white","stroke":"#555","strokeWidth":0.8,"cornerRadius":4},
"encoding":{"x":{"field":"x","type":"quantitative","axis":null},"x2":{"field":"x2"},"y":{"field":"y","type":"quantitative","axis":null},"y2":{"field":"y2"}}},
{"data":{"name":"c_txt"},"transform":[{"filter":"datum.k=='n'"}],"mark":{"type":"text","align":"left","baseline":"middle","fontSize":7.5,"color":"#222"},
"encoding":{"x":{"field":"x","type":"quantitative","axis":null},"y":{"field":"y","type":"quantitative","axis":null},"text":{"field":"t"}}},
{"data":{"name":"c_txt"},"transform":[{"filter":"datum.k=='i'"}],"mark":{"type":"text","align":"left","baseline":"middle","fontSize":7.5,"fontStyle":"italic","color":"#222"},
"encoding":{"x":{"field":"x","type":"quantitative","axis":null},"y":{"field":"y","type":"quantitative","axis":null},"text":{"field":"t"}}},
{"data":{"name":"c_txt"},"transform":[{"filter":"datum.k=='s'"}],"mark":{"type":"text","align":"left","baseline":"middle","fontSize":5.5,"dy":2,"color":"#222"},
"encoding":{"x":{"field":"x","type":"quantitative","axis":null},"y":{"field":"y","type":"quantitative","axis":null},"text":{"field":"t"}}},
{"data":{"name":"letters_c"},"mark":{"type":"text","align":"left","baseline":"alphabetic","fontSize":13,"fontWeight":"bold","color":"#111"},
"encoding":{"x":{"field":"x","type":"quantitative","axis":null},"y":{"field":"y","type":"quantitative","axis":null},"text":{"field":"t"}}}
]},
{"width":197,"height":124,
"resolve":{"axis":{"x":"independent","y":"independent"}},
"layer":[
{"data":{"name":"d_dots"},"mark":{"type":"point","filled":true,"fill":"#3434e8","stroke":"#15155a","strokeWidth":0.6,"size":14,"opacity":1},
"encoding":{"x":{"field":"x","type":"quantitative","scale":{"domain":[-16.5,16.5],"nice":false,"zero":false},"axis":{"orient":"bottom","values":[-15,-10,-5,0,5,10,15],"format":"d","title":"Φ – Φ₀ /2 (mΦ₀)","titlePadding":2}},
"y":{"field":"y","type":"quantitative","scale":{"domain":[-0.2,0.2],"nice":false,"zero":false},"axis":{"orient":"left","labels":false,"values":[-0.2,-0.1,0,0.1,0.2],"title":null}}}},
{"data":{"name":"d_line"},"mark":{"type":"line","color":"#ee5020","strokeWidth":1.3,"clip":true},
"encoding":{"x":{"field":"x","type":"quantitative","axis":{"orient":"top","labels":false,"values":[-15,-10,-5,0,5,10,15],"title":null}},
"y":{"field":"y","type":"quantitative","axis":{"orient":"right","labels":false,"values":[-0.2,-0.1,0,0.1,0.2],"title":null}}}},
{"data":{"name":"d_arrow"},"mark":{"type":"line","color":"#222","strokeWidth":0.6},
"encoding":{"x":{"field":"x","type":"quantitative","axis":null},"y":{"field":"y","type":"quantitative","axis":null},"detail":{"field":"s"}}},
{"data":{"name":"d_head"},"mark":{"type":"point","shape":"triangle-up","filled":true,"color":"#222","size":12},
"encoding":{"x":{"field":"x","type":"quantitative","axis":null},"y":{"field":"y","type":"quantitative","axis":null},"angle":{"field":"a","type":"quantitative","scale":null}}},
{"data":{"name":"d_box"},"mark":{"type":"rect","fill":"white","stroke":"#555","strokeWidth":0.8,"cornerRadius":4},
"encoding":{"x":{"field":"x","type":"quantitative","axis":null},"x2":{"field":"x2"},"y":{"field":"y","type":"quantitative","axis":null},"y2":{"field":"y2"}}},
{"data":{"name":"d_txt"},"transform":[{"filter":"datum.k=='n'"}],"mark":{"type":"text","align":"left","baseline":"middle","fontSize":7.5,"color":"#222"},
"encoding":{"x":{"field":"x","type":"quantitative","axis":null},"y":{"field":"y","type":"quantitative","axis":null},"text":{"field":"t"}}},
{"data":{"name":"d_txt"},"transform":[{"filter":"datum.k=='i'"}],"mark":{"type":"text","align":"left","baseline":"middle","fontSize":7.5,"fontStyle":"italic","color":"#222"},
"encoding":{"x":{"field":"x","type":"quantitative","axis":null},"y":{"field":"y","type":"quantitative","axis":null},"text":{"field":"t"}}},
{"data":{"name":"d_txt"},"transform":[{"filter":"datum.k=='s'"}],"mark":{"type":"text","align":"left","baseline":"middle","fontSize":5.5,"dy":2,"color":"#222"},
"encoding":{"x":{"field":"x","type":"quantitative","axis":null},"y":{"field":"y","type":"quantitative","axis":null},"text":{"field":"t"}}},
{"data":{"name":"letters_d"},"mark":{"type":"text","align":"left","baseline":"alphabetic","fontSize":13,"fontWeight":"bold","color":"#111"},
"encoding":{"x":{"field":"x","type":"quantitative","axis":null},"y":{"field":"y","type":"quantitative","axis":null},"text":{"field":"t"}}}
]}
]
}
